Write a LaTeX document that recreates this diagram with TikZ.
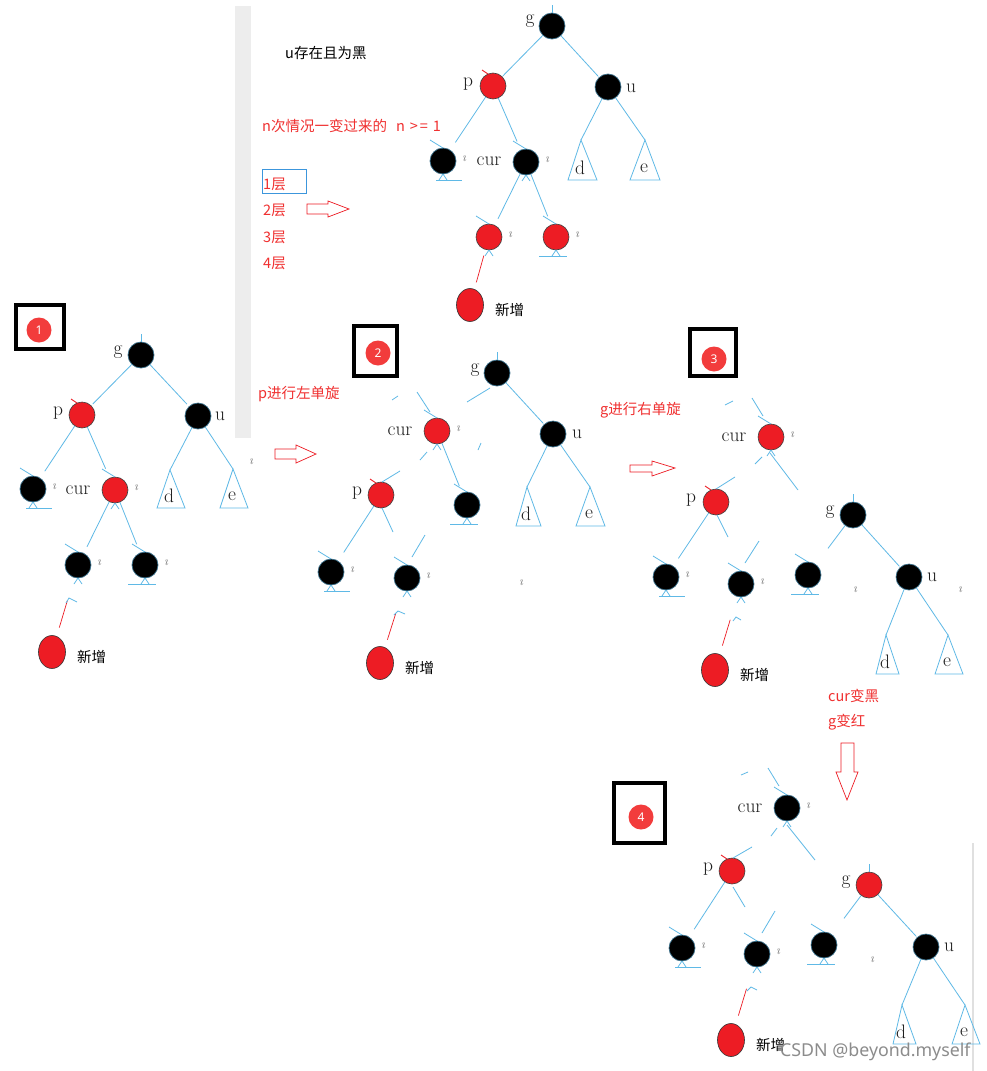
\documentclass[tikz,border=0pt]{standalone}
\usepackage{fontspec}
\newfontfamily\cjk{Noto Sans CJK SC}
\newfontfamily\nsans{Noto Sans}
\usetikzlibrary{calc,shapes.geometric}
\definecolor{eblue}{RGB}{95,185,230}
\definecolor{lblue}{RGB}{60,150,220}
\definecolor{nred}{RGB}{237,28,36}
\definecolor{tred}{RGB}{240,48,48}
\definecolor{bred}{RGB}{242,60,60}
\tikzset{
  bn/.style={circle, fill=black, draw=eblue!60!black, line width=0.7pt, minimum size=26pt, inner sep=0pt},
  rn/.style={circle, fill=nred, draw=black!75, line width=0.6pt, minimum size=26pt, inner sep=0pt},
  nn/.style={ellipse, fill=nred, draw=black!80, line width=0.6pt, minimum width=27pt, minimum height=33pt, inner sep=0pt},
  blu/.style={draw=eblue, line width=0.8pt},
  hedge/.style={blu, shorten >=9pt},
  gedge/.style={blu, shorten >=1pt},
  redge/.style={draw=nred, line width=0.7pt},
  lab/.style={font=\rmfamily\fontsize{19.5}{19.5}\selectfont, text=black!88, inner sep=0pt},
  tmk/.style={font=\rmfamily\itshape\fontsize{13}{13}\selectfont, text=black!55, inner sep=0pt},
  cjkt/.style={font=\cjk\fontsize{14.5}{16}\selectfont, inner sep=0pt, anchor=west},
  rtext/.style={cjkt, text=tred},
  hollow/.style={draw=nred, line width=0.7pt, fill=white},
  boxsty/.style={draw=black, line width=4pt},
  badge/.style={circle, fill=bred, text=white, minimum size=25pt, inner sep=0pt, font=\nsans\fontsize{12}{12}\selectfont}
}
\newcommand\caretb[1]{\draw[blu] ($(#1)+(-4,19)$) -- ($(#1)+(0,13)$) -- ($(#1)+(4,19)$);}
\newcommand\hatb[1]{\draw[blu] ($(#1)+(-13,-21)$) -- ($(#1)+(0,-13)$);}
\newcommand\phat[1]{\draw[draw=nred,line width=0.9pt] ($(#1)+(-11,-16)$) -- ($(#1)+(-5,-12)$);}
\newcommand\gtick[1]{\draw[blu] ($(#1)+(0,-21)$) -- ($(#1)+(0,-13)$);}
\newcommand\baseR[1]{\draw[blu] ($(#1)+(-7,19)$) -- ($(#1)+(19,19)$);\caretb{#1}}
\newcommand\baseL[1]{\draw[blu] ($(#1)+(-17,19)$) -- ($(#1)+(11,19)$);\caretb{#1}}
\newcommand\tmark[1]{\node[tmk] (#1-t) at ($(#1)+(21,-2)$) {\i};}
\newcommand\subtree[7]{%
  \coordinate (#1) at (#2,#3);
  \draw[blu] (#1) -- (#4,#6) -- (#5,#6) -- cycle;
  \node[lab] (#1-l) at (#2-1,#6-12) {#7};}
\begin{document}
\begin{tikzpicture}[x=1pt,y=-1pt]
\fill[white] (0,0) rectangle (986,1071);
\useasboundingbox (0,0) rectangle (986,1071);
% grey bars
\fill[black!7] (235,6) rectangle (251,438);
\draw[black!12, line width=1.5pt] (973,843) -- (973,1071);

% ---------------- top panel ----------------
\node[cjkt, text=black] (t1) at (285,53) {u存在且为黑};
\node[rtext] (t2) at (262,126) {n次情况一变过来的\hspace{9pt}n\hspace{5pt}>\hspace{2pt}=\hspace{5pt}1};
\draw[draw=lblue, line width=0.8pt] (262,169) rectangle (306,193);
\node[rtext] (L1) at (263,184) {1层};
\node[rtext] (L2) at (263,210) {2层};
\node[rtext] (L3) at (263,237) {3层};
\node[rtext] (L4) at (263,263) {4层};
\draw[hollow] (307,204) -- (328,204) -- (328,201) -- (349,209) -- (328,217) -- (328,214) -- (307,214) -- cycle;

\node[bn] (Tg) at (552,26) {};
\node[rn] (Tp) at (493,86) {};
\node[bn] (Tu) at (608,87) {};
\node[bn] (Ta) at (443,161) {};
\node[bn] (Tc) at (526,162) {};
\node[rn] (Tx) at (489,237) {};
\node[rn] (Ty) at (556,237) {};
\node[nn] (Tn) at (470,305) {};
\subtree{Td}{581}{140}{568}{597}{180}{d}
\subtree{Te}{645}{140}{630}{660}{180}{e}
\draw[gedge] (Tg) -- (Tp);
\draw[gedge] (Tg) -- (Tu);
\draw[hedge] (Tp) -- (Ta);
\draw[hedge] (Tp) -- (Tc);
\draw[blu] (Tu) -- (Td);
\draw[blu] (Tu) -- (Te);
\draw[hedge, shorten >=7pt] (Tc) -- (Tx);
\draw[hedge] (Tc) -- (Ty);
\draw[redge, shorten <=6pt, shorten >=7pt] (Tx) -- (Tn);
\gtick{Tg}\phat{Tp}\hatb{Ta}\hatb{Tc}\hatb{Tx}\hatb{Ty}
\baseR{Ta}\baseL{Ty}\caretb{Tx}\caretb{Tc}
\tmark{Ta}\tmark{Tc}\tmark{Tx}\tmark{Ty}
\node[lab] (Tgl) at (530,21) {g};
\node[lab] (Tpl) at (468,84) {p};
\node[lab] (Tul) at (631,88) {u};
\node[lab] (Tcl) at (489,161) {cur};
\node[cjkt, text=black] (Tnl) at (495,310) {新增};

% ---------------- panel 1 ----------------
\draw[boxsty] (16,305) rectangle (64,349);
\node[badge] (b1) at (39,330) {1};
\node[bn] (Ag) at (141,355) {};
\node[rn] (Ap) at (82,415) {};
\node[bn] (Au) at (198,416) {};
\node[bn] (Aa) at (33,489) {};
\node[rn] (Ac) at (115,490) {};
\node[bn] (Ax) at (78,565) {};
\node[bn] (Ay) at (145,565) {};
\node[nn] (An) at (52,652) {};
\subtree{Ad}{170}{470}{157}{185}{508}{d}
\subtree{Ae}{233}{469}{220}{248}{508}{e}
\draw[gedge, shorten >=2pt] (Ag) -- (Ap);
\draw[gedge, shorten >=3pt] (Ag) -- (Au);
\draw[hedge, shorten >=8pt] (Ap) -- (Aa);
\draw[hedge, shorten >=10pt] (Ap) -- (Ac);
\draw[blu] (Au) -- (Ad);
\draw[blu] (Au) -- (Ae);
\draw[hedge, shorten >=7pt] (Ac) -- (Ax);
\draw[hedge] (Ac) -- (Ay);
\draw[redge, shorten <=24pt, shorten >=9pt] (Ax) -- (An);
\draw[blu] (66,603) -- (69,598) -- (77,602);
\gtick{Ag}\phat{Ap}\hatb{Aa}\hatb{Ac}\hatb{Ax}\hatb{Ay}
\baseR{Aa}\baseL{Ay}\caretb{Ac}\caretb{Ax}
\tmark{Aa}\tmark{Ac}\tmark{Ax}\tmark{Ay}
\node[tmk] (As) at (251,462) {\i};
\node[lab] (Agl) at (118,352) {g};
\node[lab] (Apl) at (58,413) {p};
\node[lab] (Aul) at (220,416) {u};
\node[lab] (Acl) at (78,490) {cur};
\node[cjkt, text=black] (Anl) at (77,657) {新增};
\node[rtext] (s1) at (258,394) {p进行左单旋};
\draw[hollow] (275,449) -- (296,449) -- (296,445) -- (316,454) -- (296,463) -- (296,459) -- (275,459) -- cycle;

% ---------------- panel 2 ----------------
\draw[boxsty] (354,326) rectangle (397,376);
\node[badge] (b2) at (378,353) {2};
\node[bn] (Bg) at (497,373) {};
\node[rn] (Bc) at (437,431) {};
\node[bn] (Bu) at (553,434) {};
\node[rn] (Bp) at (381,495) {};
\node[bn] (Bb) at (467,505) {};
\node[bn] (Bx) at (331,572) {};
\node[bn] (By) at (407,578) {};
\node[nn] (Bn) at (380,663) {};
\subtree{Bd}{527}{487}{516}{541}{526}{d}
\subtree{Be}{590}{487}{576}{605}{526}{e}
\draw[blu] (490,388) -- (467,402);
\draw[gedge] (Bg) -- (Bu);
\draw[blu] (392,400) -- (398,396);
\draw[blu] (417,392) -- (430,412);
\draw[blu] (427,452) -- (420,460);
\draw[blu] (400,471) -- (382,482);
\draw[hedge, shorten >=7pt] (Bc) -- (Bb);
\draw[blu] (Bu) -- (Bd);
\draw[blu] (Bu) -- (Be);
\draw[hedge, shorten >=10pt] (Bp) -- (Bx);
\draw[blu] (382,508) -- (393,532);
\draw[blu] (425,535) -- (412,557);
\draw[blu] (478,450) -- (481,443);
\draw[redge, shorten <=24pt, shorten >=8pt] (By) -- (Bn);
\draw[blu] (394,615) -- (398,611) -- (405,614);
\gtick{Bg}\phat{Bp}\hatb{Bc}\hatb{Bb}\hatb{Bx}\hatb{By}
\baseL{Bb}\baseR{Bx}\caretb{Bc}\caretb{By}
\tmark{Bc}\tmark{Bx}\tmark{By}
\node[tmk] (Bs) at (521,583) {\i};
\node[lab] (Bgl) at (475,370) {g};
\node[lab] (Bcl) at (400,431) {cur};
\node[lab] (Bul) at (577,434) {u};
\node[lab] (Bpl) at (357,493) {p};
\node[cjkt, text=black] (Bnl) at (405,668) {新增};
\node[rtext] (s2) at (600,410) {g进行右单旋};
\draw[hollow] (630,465) -- (652,465) -- (652,461) -- (675,468) -- (652,476) -- (652,472) -- (630,472) -- cycle;

% ---------------- panel 3 ----------------
\draw[boxsty] (690,329) rectangle (736,376);
\node[badge] (b3) at (714,359) {3};
\node[rn] (Cc) at (771,437) {};
\node[rn] (Cp) at (716,502) {};
\node[bn] (Cg) at (853,515) {};
\node[bn] (Ca) at (666,577) {};
\node[bn] (Cb) at (741,584) {};
\node[bn] (Cx) at (808,575) {};
\node[bn] (Cu) at (909,577) {};
\node[nn] (Cn) at (715,670) {};
\subtree{Cd}{886}{635}{876}{899}{674}{d}
\subtree{Ce}{948}{635}{935}{963}{674}{e}
\draw[blu] (725,405) -- (733,401);
\draw[blu] (752,398) -- (763,416);
\draw[blu] (762,457) -- (755,464);
\draw[blu] (735,477) -- (716,489);
\draw[blu] (770,453) -- (798,490);
\draw[hedge, shorten >=20pt] (Cg) -- (Cx);
\draw[gedge] (Cg) -- (Cu);
\draw[hedge] (Cp) -- (Ca);
\draw[blu] (717,515) -- (728,537);
\draw[blu] (759,541) -- (745,563);
\draw[blu] (Cu) -- (Cd);
\draw[blu] (Cu) -- (Ce);
\draw[redge, shorten <=24pt, shorten >=9pt] (Cb) -- (Cn);
\draw[blu] (733,621) -- (736,617) -- (741,620);
\gtick{Cg}\phat{Cp}\hatb{Cc}\hatb{Ca}\hatb{Cb}\hatb{Cx}
\baseR{Ca}\baseL{Cx}\caretb{Cc}\caretb{Cb}
\tmark{Cc}\tmark{Ca}\tmark{Cb}
\node[tmk] (Cs1) at (855,590) {\i};
\node[tmk] (Cs2) at (960,590) {\i};
\node[lab] (Ccl) at (734,437) {cur};
\node[lab] (Cpl) at (691,500) {p};
\node[lab] (Cgl) at (830,512) {g};
\node[lab] (Cul) at (932,577) {u};
\node[cjkt, text=black] (Cnl) at (740,675) {新增};
\node[rtext] (s3) at (828,696) {cur变黑};
\node[rtext] (s4) at (828,722) {g变红};
\draw[hollow] (841,743) -- (854,743) -- (854,772) -- (858,772) -- (847,800) -- (836,772) -- (841,772) -- cycle;

% ---------------- panel 4 ----------------
\draw[boxsty] (614,783) rectangle (665,843);
\node[badge] (b4) at (641,817) {4};
\node[bn] (Dc) at (787,808) {};
\node[rn] (Dp) at (732,871) {};
\node[rn] (Dg) at (869,885) {};
\node[bn] (Da) at (682,948) {};
\node[bn] (Db) at (757,954) {};
\node[bn] (Dx) at (824,945) {};
\node[bn] (Du) at (926,947) {};
\node[nn] (Dn) at (731,1040) {};
\subtree{Dd}{902}{1005}{893}{916}{1044}{d}
\subtree{De}{965}{1005}{952}{980}{1044}{e}
\draw[blu] (741,775) -- (748,772);
\draw[blu] (768,768) -- (779,786);
\draw[blu] (777,828) -- (771,836);
\draw[blu] (752,847) -- (733,858);
\draw[blu] (787,825) -- (815,860);
\draw[hedge, shorten >=20pt] (Dg) -- (Dx);
\draw[gedge] (Dg) -- (Du);
\draw[hedge] (Dp) -- (Da);
\draw[blu] (733,887) -- (745,907);
\draw[blu] (775,911) -- (762,933);
\draw[blu] (Du) -- (Dd);
\draw[blu] (Du) -- (De);
\draw[redge, shorten <=23pt, shorten >=9pt] (Db) -- (Dn);
\draw[blu] (747,991) -- (751,987) -- (757,990);
\gtick{Dg}\phat{Dp}\hatb{Dc}\hatb{Da}\hatb{Db}\hatb{Dx}
\baseR{Da}\baseL{Dx}\caretb{Dc}\caretb{Db}
\tmark{Dc}\tmark{Da}\tmark{Db}
\node[tmk] (Ds) at (872,960) {\i};
\node[lab] (Dcl) at (750,808) {cur};
\node[lab] (Dpl) at (708,869) {p};
\node[lab] (Dgl) at (846,882) {g};
\node[lab] (Dul) at (949,947) {u};
\node[cjkt, text=black] (Dnl) at (756,1045) {新增};

\node[anchor=west, inner sep=0pt, text=black!45, font=\nsans\fontsize{17.8}{17.8}\selectfont] (wm) at (780,1052) {CSDN @beyond.myself};
\end{tikzpicture}
\end{document}
